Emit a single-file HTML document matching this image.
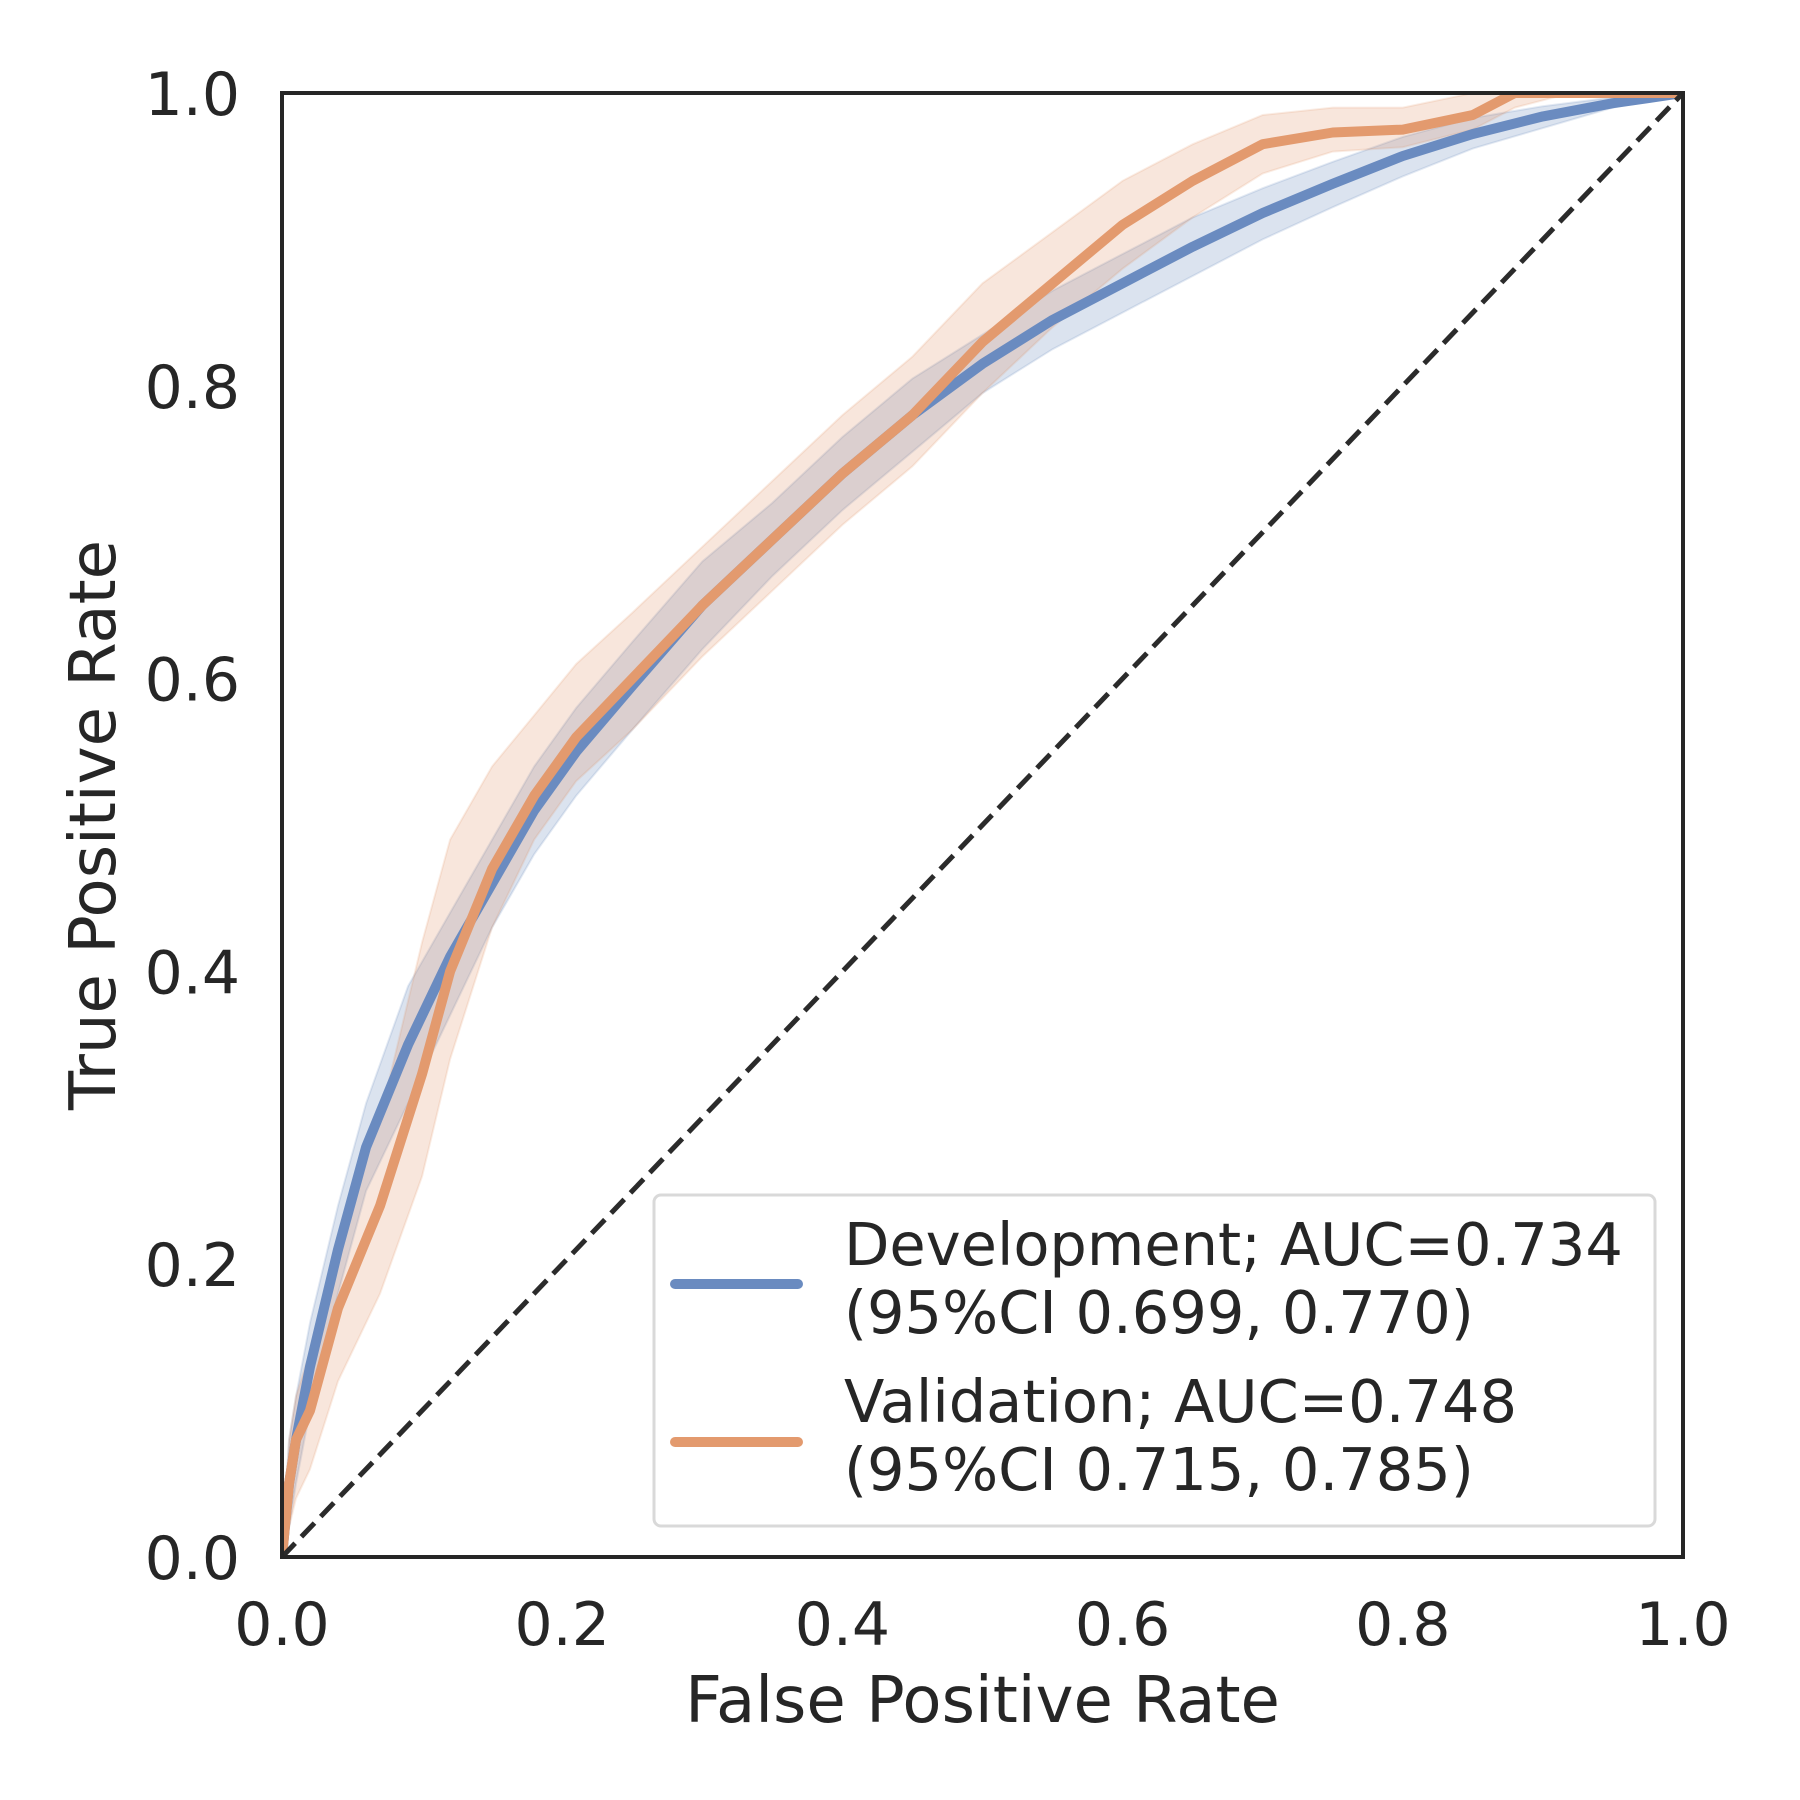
<!DOCTYPE html>
<html><head><meta charset="utf-8"><style>
html,body{margin:0;padding:0;background:#fff;}
svg{display:block;font-family:"DejaVu Sans","Liberation Sans",sans-serif;}
</style></head><body>
<svg id="chart" width="1800" height="1800" viewBox="0 0 1800 1800" xmlns="http://www.w3.org/2000/svg"></svg>
<script>
const ticks = [0, 0.2, 0.4, 0.6, 0.8, 1.0];
const tickLabels = ["0.0", "0.2", "0.4", "0.6", "0.8", "1.0"];
const devFpr = [0, 0.005, 0.01, 0.02, 0.04, 0.06, 0.09, 0.12, 0.15, 0.18, 0.21, 0.25, 0.3, 0.35, 0.4, 0.45, 0.5, 0.55, 0.6, 0.65, 0.7, 0.75, 0.8, 0.85, 0.9, 0.95, 1];
const devTpr = [0, 0.05, 0.08, 0.13, 0.21, 0.28, 0.35, 0.41, 0.46, 0.51, 0.55, 0.595, 0.65, 0.695, 0.74, 0.78, 0.815, 0.845, 0.87, 0.895, 0.918, 0.938, 0.957, 0.972, 0.984, 0.993, 1];
const devLow = [0, 0.02, 0.05, 0.1, 0.18, 0.25, 0.31, 0.37, 0.43, 0.48, 0.52, 0.565, 0.62, 0.67, 0.715, 0.755, 0.795, 0.825, 0.85, 0.875, 0.9, 0.922, 0.943, 0.962, 0.976, 0.99, 1];
const devHigh = [0, 0.08, 0.11, 0.16, 0.24, 0.31, 0.39, 0.44, 0.49, 0.54, 0.58, 0.625, 0.68, 0.72, 0.765, 0.805, 0.835, 0.865, 0.89, 0.915, 0.935, 0.953, 0.97, 0.983, 0.991, 0.997, 1];
const valFpr = [0, 0.005, 0.01, 0.02, 0.04, 0.07, 0.1, 0.12, 0.15, 0.18, 0.21, 0.25, 0.3, 0.35, 0.4, 0.45, 0.5, 0.55, 0.6, 0.65, 0.7, 0.75, 0.8, 0.85, 0.88, 0.92, 1];
const valTpr = [0, 0.05, 0.08, 0.10, 0.17, 0.24, 0.33, 0.40, 0.47, 0.52, 0.56, 0.60, 0.65, 0.695, 0.74, 0.78, 0.83, 0.87, 0.91, 0.94, 0.965, 0.973, 0.975, 0.985, 1.0, 1.0, 1];
const valLow = [0, 0.02, 0.04, 0.06, 0.12, 0.18, 0.26, 0.34, 0.43, 0.49, 0.53, 0.565, 0.615, 0.66, 0.705, 0.745, 0.795, 0.84, 0.88, 0.915, 0.945, 0.96, 0.963, 0.975, 0.99, 1.0, 1];
const valHigh = [0, 0.08, 0.11, 0.14, 0.22, 0.30, 0.42, 0.49, 0.54, 0.575, 0.61, 0.645, 0.69, 0.735, 0.78, 0.82, 0.87, 0.905, 0.94, 0.965, 0.985, 0.99, 0.99, 1.0, 1.0, 1.0, 1];

const X0 = 282, X1 = 1683, Y0 = 1557, Y1 = 93;
const sx = v => X0 + v * (X1 - X0);
const sy = v => Y0 - v * (Y0 - Y1);
const NS = "http://www.w3.org/2000/svg";
const svg = document.getElementById("chart");
function mk(tag, attrs, parent) {
  const e = document.createElementNS(NS, tag);
  for (const k in attrs) e.setAttribute(k, attrs[k]);
  (parent || svg).appendChild(e);
  return e;
}
function linePath(xs, ys) { return xs.map((x, i) => (i ? "L" : "M") + sx(x).toFixed(1) + "," + sy(ys[i]).toFixed(1)).join(" "); }
function bandPath(xs, lo, hi) {
  let d = xs.map((x, i) => (i ? "L" : "M") + sx(x).toFixed(1) + "," + sy(hi[i]).toFixed(1)).join(" ");
  for (let i = xs.length - 1; i >= 0; i--) d += " L" + sx(xs[i]).toFixed(1) + "," + sy(lo[i]).toFixed(1);
  return d + " Z";
}
const defs = mk("defs", {});
const cp = mk("clipPath", {id: "clip"}, defs);
mk("rect", {x: X0, y: Y1, width: X1 - X0, height: Y0 - Y1}, cp);
const g = mk("g", {"clip-path": "url(#clip)"});

const db = mk("path", {d: bandPath(devFpr, devLow, devHigh), fill: "#4c72b0", "fill-opacity": 0.2, stroke: "#4c72b0", "stroke-opacity": 0.15, "stroke-width": 2}, g);


const vb = mk("path", {d: bandPath(valFpr, valLow, valHigh), fill: "#dd8452", "fill-opacity": 0.2, stroke: "#dd8452", "stroke-opacity": 0.15, "stroke-width": 2}, g);


const dl = mk("path", {d: linePath(devFpr, devTpr), fill: "none", stroke: "#6a8bc0", "stroke-width": 10, "stroke-linejoin": "round"}, g);


const vl = mk("path", {d: linePath(valFpr, valTpr), fill: "none", stroke: "#e39a6e", "stroke-width": 10, "stroke-linejoin": "round"}, g);


const diag = mk("line", {x1: sx(0), y1: sy(0), x2: sx(1), y2: sy(1), stroke: "#2b2b2b", "stroke-width": 5, "stroke-dasharray": "19,9"}, g);



const frame = mk("rect", {x: X0, y: Y1, width: X1 - X0, height: Y0 - Y1, fill: "none", stroke: "#262626", "stroke-width": 4});



ticks.forEach((t, i) => {
  const xt = mk("text", {x: sx(t), y: 1645, "text-anchor": "middle", "font-size": 60, fill: "#262626"});
  xt.textContent = tickLabels[i];
  
  
  const yt = mk("text", {x: 240, y: sy(t) + 22, "text-anchor": "end", "font-size": 60, fill: "#262626"});
  yt.textContent = tickLabels[i];
  
  
});
const xl = mk("text", {x: (X0 + X1) / 2, y: 1722, "text-anchor": "middle", "font-size": 64, fill: "#262626"});
xl.textContent = "False Positive Rate";


const yl = mk("text", {x: 0, y: 0, "text-anchor": "middle", "font-size": 64, fill: "#262626", transform: "translate(115," + ((Y0 + Y1) / 2) + ") rotate(-90)"});
yl.textContent = "True Positive Rate";



const leg = mk("g", {});


mk("rect", {x: 654, y: 1195, width: 1001, height: 331, rx: 7, fill: "#fff", "fill-opacity": 0.8, stroke: "#d9d9d9", "stroke-width": 3}, leg);
const entries = [
  {y: 1284, color: "#6a8bc0", l1: "Development; AUC=0.734", l2: "(95%CI 0.699, 0.770)", b: 1265, name: "legend-entry-development"},
  {y: 1442, color: "#e39a6e", l1: "Validation; AUC=0.748", l2: "(95%CI 0.715, 0.785)", b: 1422, name: "legend-entry-validation"}
];
entries.forEach(e => {
  const eg = mk("g", {}, leg);
  
  
  mk("line", {x1: 675, x2: 798, y1: e.y, y2: e.y, stroke: e.color, "stroke-width": 10, "stroke-linecap": "round"}, eg);
  const t1 = mk("text", {x: 844, y: e.b, "font-size": 59, fill: "#262626"}, eg);
  t1.textContent = e.l1;
  const t2 = mk("text", {x: 844, y: e.b + 68, "font-size": 59, fill: "#262626"}, eg);
  t2.textContent = e.l2;
});
</script>
</body></html>
